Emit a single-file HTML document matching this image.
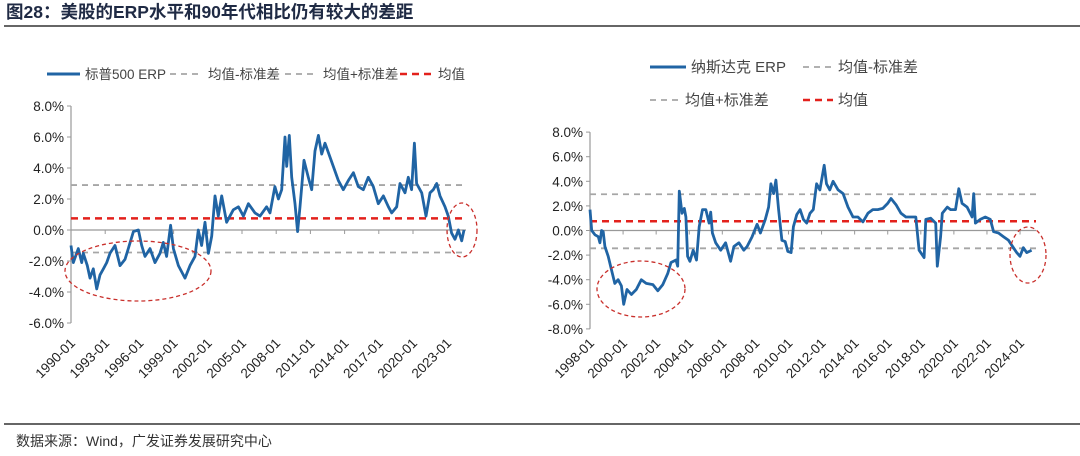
<!DOCTYPE html>
<html><head><meta charset="utf-8"><style>
body{margin:0;background:#fff;}
svg text{font-family:"Liberation Sans","Noto Sans CJK SC",sans-serif;}
</style></head><body>
<svg id="root" width="1080" height="451" xmlns="http://www.w3.org/2000/svg">
<text x="6" y="18" font-size="17.5" font-weight="bold" fill="#1f2a44">图28：美股的ERP水平和90年代相比仍有较大的差距</text>
<line x1="4" y1="26" x2="1080" y2="26" stroke="#333" stroke-width="1.5"/>
<line x1="4" y1="424" x2="1080" y2="424" stroke="#333" stroke-width="1.5"/>
<text x="16" y="446" font-size="14" fill="#333">数据来源：Wind，广发证券发展研究中心</text>
<g id="left"></g>
<g id="right"></g>
</svg>
<script>
// ---- S&P 500 data ----
const spYears=[1990.0,1990.2,1990.64,1990.94,1991.08,1991.43,1991.67,1991.96,1992.25,1992.54,1992.84,1993.13,1993.42,1993.86,1994.3,1994.74,1995.03,1995.47,1995.91,1996.2,1996.49,1996.93,1997.37,1997.81,1998.1,1998.39,1998.74,1998.98,1999.42,2000.0,2000.44,2000.88,2001.17,2001.46,2001.75,2002.05,2002.34,2002.63,2002.92,2003.22,2003.65,2004.24,2004.68,2005.12,2005.56,2006.14,2006.58,2007.16,2007.46,2007.89,2008.19,2008.48,2008.77,2008.92,2009.15,2009.36,2009.65,2009.88,2010.09,2010.44,2010.82,2011.11,2011.4,2011.7,2011.99,2012.28,2012.72,2013.01,2013.45,2013.89,2014.33,2014.77,2015.2,2015.64,2016.08,2016.52,2016.96,2017.4,2017.84,2018.13,2018.57,2018.86,2019.3,2019.59,2019.88,2020.12,2020.32,2020.76,2021.14,2021.49,2021.78,2022.08,2022.37,2022.81,2023.1,2023.39,2023.68,2023.98,2024.27,2024.47];
const spValues=[-1.0,-2.1,-1.2,-2.1,-1.5,-2.3,-3.1,-2.5,-3.8,-2.9,-2.5,-2.1,-1.5,-1.0,-2.3,-1.9,-1.2,-0.1,0.0,-1.0,-1.7,-1.2,-2.1,-1.5,-0.8,-1.7,0.3,-1.2,-2.3,-3.1,-2.3,-1.7,0.0,-1.0,0.5,-1.5,-0.4,2.2,0.9,2.2,0.5,1.3,1.5,0.9,1.7,1.1,0.9,1.5,1.1,2.8,2.0,2.6,6.0,4.1,6.1,3.4,1.7,-0.1,1.5,4.5,3.4,2.6,5.1,6.1,4.9,5.6,4.7,4.1,3.2,2.6,3.2,3.7,2.8,2.6,3.4,2.8,1.7,2.2,1.5,1.1,1.5,3.0,2.4,3.4,2.6,5.6,3.0,2.4,0.9,2.4,2.6,3.0,2.2,1.5,0.9,-0.2,-0.6,0.0,-0.7,0.0];
const spRef=[2.9,0.75,-1.45]; // +std, mean, -std
const spTicks=["8.0%","6.0%","4.0%","2.0%","0.0%","-2.0%","-4.0%","-6.0%"];
const spTickVals=[8,6,4,2,0,-2,-4,-6];
const spXLabels=["1990-01","1993-01","1996-01","1999-01","2002-01","2005-01","2008-01","2011-01","2014-01","2017-01","2020-01","2023-01"];
const spXVals=[1990,1993,1996,1999,2002,2005,2008,2011,2014,2017,2020,2023];
// ---- NASDAQ data ----
const nqYears=[1998.0,1998.1,1998.3,1998.5,1998.6,1998.7,1998.8,1998.9,1999.1,1999.3,1999.5,1999.7,1999.9,2000.04,2000.24,2000.5,2000.8,2001.1,2001.4,2001.8,2002.1,2002.4,2002.7,2002.9,2003.2,2003.3,2003.4,2003.56,2003.7,2003.8,2003.9,2004.04,2004.24,2004.44,2004.6,2004.8,2005.0,2005.2,2005.3,2005.4,2005.6,2005.9,2006.2,2006.5,2006.7,2007.0,2007.3,2007.5,2007.8,2008.1,2008.3,2008.6,2008.8,2008.94,2009.1,2009.24,2009.4,2009.6,2009.8,2009.96,2010.16,2010.3,2010.5,2010.7,2010.9,2011.1,2011.3,2011.5,2011.7,2011.9,2012.16,2012.3,2012.5,2012.7,2013.0,2013.3,2013.6,2013.9,2014.2,2014.5,2014.8,2015.1,2015.4,2015.7,2016.0,2016.2,2016.5,2016.8,2017.1,2017.4,2017.7,2017.9,2018.2,2018.3,2018.6,2018.9,2019.0,2019.2,2019.3,2019.6,2019.8,2020.1,2020.3,2020.5,2020.8,2021.1,2021.2,2021.3,2021.6,2021.9,2022.2,2022.4,2022.7,2023.0,2023.3,2023.5,2023.8,2024.0,2024.2,2024.4,2024.7];
const nqValues=[1.7,0.0,-0.35,-0.5,-1.0,0.0,-0.1,-1.3,-2.1,-3.2,-4.3,-4.0,-4.5,-6.0,-4.8,-5.2,-4.8,-4.0,-4.3,-4.4,-4.9,-4.4,-3.5,-2.6,-2.4,-2.9,3.2,1.4,1.8,1.1,-2.1,-2.5,-1.6,-2.4,0.3,1.7,1.7,0.6,1.5,-0.2,-1.0,-1.6,-1.0,-2.5,-1.3,-1.0,-1.6,-1.3,-0.5,0.5,-0.2,0.9,1.9,3.8,3.0,4.1,1.7,-0.8,-0.9,-1.7,-1.8,0.3,1.3,1.7,0.9,0.6,1.4,1.7,3.8,3.3,5.3,3.8,3.3,4.0,3.3,3.0,1.9,1.1,1.1,0.7,1.4,1.7,1.7,1.8,2.2,2.6,2.1,1.4,1.1,1.1,1.1,-1.6,-2.2,0.9,1.0,0.6,-2.9,-0.5,1.4,1.9,1.7,1.7,3.4,2.2,1.9,1.1,3.0,0.6,0.9,1.1,0.9,-0.1,-0.2,-0.5,-0.8,-1.2,-1.8,-2.1,-1.4,-1.8,-1.6];
const nqRef=[2.95,0.75,-1.45];
const nqTicks=["8.0%","6.0%","4.0%","2.0%","0.0%","-2.0%","-4.0%","-6.0%","-8.0%"];
const nqTickVals=[8,6,4,2,0,-2,-4,-6,-8];
const nqXLabels=["1998-01","2000-01","2002-01","2004-01","2006-01","2008-01","2010-01","2012-01","2014-01","2016-01","2018-01","2020-01","2022-01","2024-01"];
const nqXVals=[1998,2000,2002,2004,2006,2008,2010,2012,2014,2016,2018,2020,2022,2024];

const NS="http://www.w3.org/2000/svg";
function mk(parent,tag,attrs,text){const e=document.createElementNS(NS,tag);for(const k in attrs)e.setAttribute(k,attrs[k]);if(text!==undefined)e.textContent=text;parent.appendChild(e);return e;}

function drawChart(g,cfg){
  const X=v=>cfg.x0+(v-cfg.xMin)*cfg.xScale;
  const Y=v=>cfg.y0-v*cfg.yScale;
  let a=mk(g,'line',{x1:cfg.x0,y1:Y(cfg.yTickVals[0]),x2:cfg.x0,y2:Y(cfg.yTickVals[cfg.yTickVals.length-1]),stroke:'#999','stroke-width':1.2});
  
  
  cfg.yTickVals.forEach((v,i)=>{
    const t=mk(g,'line',{x1:cfg.x0-4,y1:Y(v),x2:cfg.x0,y2:Y(v),stroke:'#999','stroke-width':1});
    
    
    const l=mk(g,'text',{x:cfg.x0-7,y:Y(v)+5,'font-size':13.5,fill:'#222','text-anchor':'end'},cfg.yTicks[i]);
    
    
  });
  const z=mk(g,'line',{x1:cfg.x0,y1:Y(0),x2:cfg.xEnd,y2:Y(0),stroke:'#999','stroke-width':1.2});
  
  
  cfg.xVals.forEach((v,i)=>{
    const t=mk(g,'line',{x1:X(v),y1:Y(0),x2:X(v),y2:Y(0)+4,stroke:'#999','stroke-width':1});
    
    
    const l=mk(g,'text',{x:0,y:0,'font-size':13.5,fill:'#222','text-anchor':'end',transform:`translate(${X(v)+5},${cfg.labelY}) rotate(-45)`},cfg.xLabels[i]);
    
    
  });
  const refStyle=[['#a6a6a6',1.8,'6,5','plus-std-line'],['#e3211c',2.5,'7,5','mean-line'],['#a6a6a6',1.8,'6,5','minus-std-line']];
  cfg.ref.forEach((v,i)=>{
    const r=mk(g,'line',{x1:cfg.x0,y1:Y(v),x2:cfg.xEnd,y2:Y(v),stroke:refStyle[i][0],'stroke-width':refStyle[i][1],'stroke-dasharray':refStyle[i][2]});
    
    
  });
  const d=cfg.years.map((y,i)=>(i?'L':'M')+X(y).toFixed(1)+','+Y(cfg.values[i]).toFixed(1)).join(' ');
  const p=mk(g,'path',{d:d,fill:'none',stroke:'#2064a4','stroke-width':2.8,'stroke-linejoin':'round'});
  
  
  cfg.ellipses.forEach(e=>{
    const el=mk(g,'ellipse',{cx:e[0],cy:e[1],rx:e[2],ry:e[3],fill:'none',stroke:'#c9302c','stroke-width':1.3,'stroke-dasharray':'4,3'});
    
    
  });
}

const L=document.getElementById('left'), R=document.getElementById('right');
drawChart(L,{x0:71,xMin:1990,xScale:11.4,y0:230,yScale:15.5,xEnd:466,years:spYears,values:spValues,ref:spRef,yTicks:spTicks,yTickVals:spTickVals,xLabels:spXLabels,xVals:spXVals,labelY:344,ellipses:[[138,271,73,30],[462,230,15,27]]});
drawChart(R,{x0:590,xMin:1998,xScale:16.54,y0:230.5,yScale:12.3,xEnd:1036,years:nqYears,values:nqValues,ref:nqRef,yTicks:nqTicks,yTickVals:nqTickVals,xLabels:nqXLabels,xVals:nqXVals,labelY:344,ellipses:[[641,289,44,28],[1028,255,18,28]]});

function legendItem(g,x,y,color,w,dash,sw,label,fs,name){
  const grp=mk(g,'g',{});
  
  
  const ln=mk(grp,'line',{x1:x,y1:y,x2:x+w,y2:y,stroke:color,'stroke-width':sw});
  if(dash)ln.setAttribute('stroke-dasharray',dash);
  mk(grp,'text',{x:x+w+5,y:y+5,'font-size':fs,fill:'#444'},label);
}
legendItem(L,47,74,'#2064a4',33,null,3,'标普500 ERP',13.5,'legend-sp500');
legendItem(L,170,74,'#a6a6a6',33,'6,5',1.8,'均值-标准差',13.5,'legend-minus-std');
legendItem(L,285,74,'#a6a6a6',33,'6,5',1.8,'均值+标准差',13.5,'legend-plus-std');
legendItem(L,400,74,'#e3211c',33,'7,5',2.5,'均值',13.5,'legend-mean');
legendItem(R,650,67,'#2064a4',36,null,3,'纳斯达克 ERP',15,'legend-nasdaq');
legendItem(R,803,67,'#a6a6a6',30,'6,5',1.8,'均值-标准差',15,'legend-minus-std');
legendItem(R,650,100,'#a6a6a6',30,'6,5',1.8,'均值+标准差',15,'legend-plus-std');
legendItem(R,803,100,'#e3211c',30,'7,5',2.5,'均值',15,'legend-mean');
</script>
</body></html>
